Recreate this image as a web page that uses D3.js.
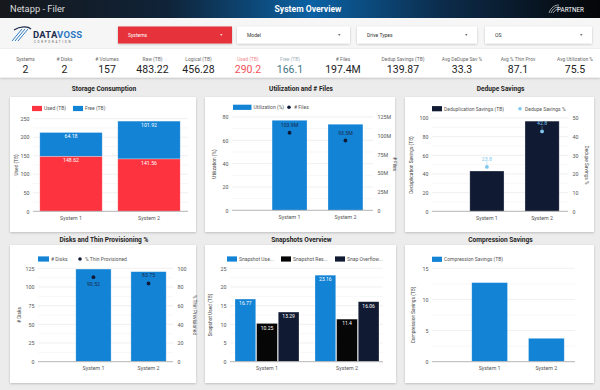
<!DOCTYPE html>
<html><head><meta charset="utf-8">
<script src="https://cdn.jsdelivr.net/npm/d3@7"></script>
<style>body{margin:0;background:#ececec;} svg{display:block;font-family:Roboto,"Noto Sans",sans-serif;}</style>
</head><body><svg id="c" width="600" height="390"></svg>
<script>
// ---------- DATA ----------
const headerTitle = "Netapp - Filer";
const dashTitle = "System Overview";
const filters = ["Systems", "Model", "Drive Types", "OS"];
const kpiLabels = ["Systems","# Disks","# Volumes","Raw (TB)","Logical (TB)","Used (TB)","Free (TB)","# Files","Dedup Savings (TB)","Avg DeDupe Sav %","Avg % Thin Prov","Avg Utilization %"];
const kpiValues = ["2","2","157","483.22","456.28","290.2","166.1","197.4M","139.87","33.3","87.1","75.5"];
const systems = ["System 1", "System 2"];
const usedTB = [148.62, 141.56];
const freeTB = [64.18, 101.92];
const storageTicks = [0, 50, 100, 150, 200, 250];
const utilization = [77.2, 73.8];
const files = [103.9e6, 93.5e6];
const utilTicks = [0, 20, 40, 60, 80];
const filesTicks = [0, 25e6, 50e6, 75e6, 100e6, 125e6];
const dedupTB = [43.2, 96.67];
const dedupPct = [23.8, 42.8];
const dedupTicks = [0, 20, 40, 60, 80, 100];
const dedupPctTicks = [0, 10, 20, 30, 40, 50];
const disks = [124, 120.5];
const thinPct = [90.52, 83.75];
const diskTicks = [0, 25, 50, 75, 100, 125];
const thinTicks = [0, 20, 40, 60, 80, 100];
const snapSeries = ["Snapshot Use...", "Snapshot Res...", "Snap Overflow..."];
const snapUsed = [16.77, 23.16];
const snapReserve = [10.25, 11.4];
const snapOverflow = [13.29, 16.06];
const snapTicks = [0, 5, 10, 15, 20, 25];
const compression = [12.7, 3.76];
const compTicks = [0, 5, 10, 15];

// ---------- STYLE ----------
const RED = "#fe3340", BLUE = "#1383d6", NAVY = "#111a33", BLACK = "#060606", LBLUE = "#7ec6ee", DOT = "#0e1a36";
const FONT = "Roboto, 'Noto Sans', sans-serif";
const svg = d3.select("#c");
const defs = svg.append("defs");
const grad = defs.append("linearGradient").attr("id", "hdr").attr("x1", "0").attr("x2", "1");
[["0%","#16181c"],["28%","#0f2338"],["52%","#0b62a4"],["74%","#0c2b4a"],["100%","#050607"]]
  .forEach(s => grad.append("stop").attr("offset", s[0]).attr("stop-color", s[1]));
const f = defs.append("filter").attr("id","sh").attr("x","-5%").attr("y","-5%").attr("width","110%").attr("height","115%");
f.append("feDropShadow").attr("dx",0).attr("dy",0.8).attr("stdDeviation",0.9).attr("flood-color","#000").attr("flood-opacity",0.22);

svg.append("rect").attr("width", 600).attr("height", 390).attr("fill", "#ececec");
// header
svg.append("rect").attr("width", 600).attr("height", 18).attr("fill", "url(#hdr)");
svg.append("text").attr("x", 10).attr("y", 12.2).attr("font-size", 9.3).attr("fill", "#dcdcdc").text(headerTitle);
svg.append("text").attr("x", 308).attr("y", 12.2).attr("text-anchor", "middle").attr("font-size", 8.6).attr("font-weight", 700).attr("fill", "#fff").text(dashTitle);
// partner logo
svg.append("path").attr("d", "M549,13 C551,7 555,5 559,5 M551,13 C553,8 556,7 559,7 M553,13 C555,10 557,9 559,9").attr("stroke", "#ddd").attr("fill", "none").attr("stroke-width", 0.7);
svg.append("text").attr("x", 557).attr("y", 12).attr("font-size", 6.3).attr("fill", "#fff").text("PARTNER");

// filter row
svg.append("rect").attr("y", 18).attr("width", 600).attr("height", 31).attr("fill", "#f6f6f6");
// datavoss logo
const lg = svg.append("g");
[0, 3, 6].forEach(o => lg.append("path").attr("d", `M${12+o},${41} L${22+o},${29}`).attr("stroke", "#2f7fc8").attr("stroke-width", 1).attr("fill", "none"));
lg.append("path").attr("d", "M14,30 C20,26 28,26 31,29").attr("stroke", "#1d2b4f").attr("stroke-width", 1.2).attr("fill", "none");
const dt = lg.append("text").attr("x", 33).attr("y", 38).attr("font-size", 9.5).attr("font-weight", 700).attr("letter-spacing", 0.2);
dt.append("tspan").attr("fill", "#1d2b4f").text("DATA");
dt.append("tspan").attr("fill", "#2a78c2").text("VOSS");
lg.append("text").attr("x", 34).attr("y", 42.5).attr("font-size", 2.8).attr("letter-spacing", 1.75).attr("fill", "#555").text("CORPORATION");

const fx = [[118, 232], [237, 350], [357, 477], [485, 592]];
filters.forEach((t, i) => {
  const red = i === 0;
  svg.append("rect").attr("x", fx[i][0]).attr("y", 26.5).attr("width", fx[i][1] - fx[i][0]).attr("height", 17)
    .attr("fill", red ? "#e5333b" : "#fff").attr("filter", "url(#sh)");
  svg.append("text").attr("x", fx[i][0] + 10).attr("y", 36.8).attr("font-size", 5).attr("fill", red ? "#fff" : "#333").text(t);
  svg.append("path").attr("d", `M${fx[i][1]-12},34.2 l2.6,0 l-1.3,1.6 z`).attr("fill", red ? "#fff" : "#444");
});

// KPI band
svg.append("rect").attr("y", 49).attr("width", 600).attr("height", 28.5).attr("fill", "#fff").attr("filter", "url(#sh)");
const kpiX = [25.5, 64.5, 107, 152.5, 198.5, 248, 290, 343, 403, 462, 518, 575];
kpiLabels.forEach((l, i) => {
  const lc = i === 5 ? "#f08a90" : i === 6 ? "#9fb2ba" : "#6a6a6a";
  const vc = i === 5 ? "#f2505b" : i === 6 ? "#3f7585" : "#222";
  svg.append("text").attr("x", kpiX[i]).attr("y", 60.5).attr("text-anchor", "middle").attr("font-size", 4.9).attr("fill", lc).text(l);
  svg.append("text").attr("x", kpiX[i]).attr("y", 72.6).attr("text-anchor", "middle").attr("font-size", 10.5).attr("fill", vc).text(kpiValues[i]);
});

// ---------- HELPERS ----------
function card(x0, y0, x1, y1, title, ty) {
  svg.append("rect").attr("x", x0).attr("y", y0).attr("width", x1 - x0).attr("height", y1 - y0).attr("fill", "#fff").attr("filter", "url(#sh)");
  svg.append("text").attr("x", (x0 + x1) / 2 + 1).attr("y", ty).attr("text-anchor", "middle").attr("font-size", 6.6).attr("font-weight", 700).attr("fill", "#1e1e1e").text(title);
}
function grid(y, x0, x1, ticks) {
  const g = svg.append("g");
  const step = ticks[1] - ticks[0];
  const minor = [];
  for (let i = 0; i < ticks.length - 1; i++) minor.push(ticks[i] + step / 2);
  g.selectAll(".mn").data(minor).join("line").attr("x1", x0).attr("x2", x1).attr("y1", d => y(d)).attr("y2", d => y(d)).attr("stroke", "#f2f2f2").attr("stroke-width", 0.6);
  g.selectAll(".mj").data(ticks.slice(1)).join("line").attr("x1", x0).attr("x2", x1).attr("y1", d => y(d)).attr("y2", d => y(d)).attr("stroke", "#e6e6e6").attr("stroke-width", 0.6);
}
function styleAxis(g) {
  g.select(".domain").remove();
  g.attr("font-family", FONT).attr("font-size", 5.3);
  g.selectAll("text").attr("fill", "#555");
}
function leftAxis(y, x, ticks, fmt) {
  svg.append("g").attr("transform", `translate(${x},0)`)
    .call(d3.axisLeft(y).tickValues(ticks).tickSize(0).tickPadding(3.5).tickFormat(fmt || (d => d))).call(styleAxis);
}
function rightAxis(y, x, ticks, fmt) {
  svg.append("g").attr("transform", `translate(${x},0)`)
    .call(d3.axisRight(y).tickValues(ticks).tickSize(0).tickPadding(4.5).tickFormat(fmt || (d => d))).call(styleAxis);
}
function bottomAxis(x, yb, x0, x1, pad) {
  svg.append("line").attr("x1", x0).attr("x2", x1).attr("y1", yb).attr("y2", yb).attr("stroke", "#b5b5b5").attr("stroke-width", 1);
  svg.append("g").attr("transform", `translate(0,${yb})`)
    .call(d3.axisBottom(x).tickSize(0).tickPadding(pad)).call(styleAxis);
}
function vtitle(x, y, t, rot) {
  svg.append("text").attr("transform", `translate(${x},${y}) rotate(${rot})`).attr("text-anchor", "middle")
    .attr("font-size", 4.8).attr("fill", "#444").text(t);
}
function legendRect(x, y, w, color, label) {
  svg.append("rect").attr("x", x).attr("y", y - 2.6).attr("width", w).attr("height", 5.2).attr("fill", color);
  svg.append("text").attr("x", x + w + 2).attr("y", y + 1.8).attr("font-size", 5).attr("fill", "#555").text(label);
}
function legendDot(x, y, color, label) {
  svg.append("circle").attr("cx", x).attr("cy", y).attr("r", 1.8).attr("fill", color);
  svg.append("text").attr("x", x + 5).attr("y", y + 1.8).attr("font-size", 5).attr("fill", "#555").text(label);
}
function label(x, y, t, color, size) {
  svg.append("text").attr("x", x).attr("y", y).attr("text-anchor", "middle").attr("font-size", size || 5.2).attr("fill", color).text(t);
}

// ---------- CHART 1: Storage Consumption ----------
card(10, 97, 196, 232, "Storage Consumption", 91.3);
{
  const y = d3.scaleLinear().domain([0, 250]).range([211.3, 118.7]);
  const x = d3.scaleBand().domain(systems).range([32, 188]).paddingInner(0.2).paddingOuter(0.1);
  grid(y, 33, 188, storageTicks);
  const rows = systems.map((s, i) => ({ s, used: usedTB[i], free: freeTB[i] }));
  const stack = d3.stack().keys(["used", "free"])(rows);
  const cols = [RED, BLUE];
  stack.forEach((layer, li) => {
    svg.append("g").selectAll("rect").data(layer).join("rect")
      .attr("x", d => x(d.data.s)).attr("width", x.bandwidth())
      .attr("y", d => y(d[1])).attr("height", d => y(d[0]) - y(d[1]))
      .attr("fill", cols[li]).attr("stroke", "rgba(255,255,255,0.45)").attr("stroke-width", 0.6);
    layer.forEach(d => label(x(d.data.s) + x.bandwidth() / 2, y(d[1]) + 6, (d[1] - d[0]).toFixed(2), "#fff"));
  });
  bottomAxis(x, 211.3, 33, 188, 5);
  leftAxis(y, 33, storageTicks);
  vtitle(17.5, 165, "Used (TB)", -90);
  legendRect(32, 108.5, 10, RED, "Used (TB)");
  legendRect(73, 108.5, 10, BLUE, "Free (TB)");
}

// ---------- CHART 2: Utilization and # Files ----------
card(205, 97, 395, 232, "Utilization and # Files", 91.3);
{
  const y = d3.scaleLinear().domain([0, 80]).range([210.3, 117]);
  const y2 = d3.scaleLinear().domain([0, 125e6]).range([210.3, 117]);
  const x = d3.scaleBand().domain(systems).range([262, 373]).paddingInner(0.375).paddingOuter(0.18);
  grid(y, 232, 373, utilTicks);
  svg.append("g").selectAll("rect").data(systems).join("rect")
    .attr("x", d => x(d)).attr("width", x.bandwidth()).attr("y", (d, i) => y(utilization[i])).attr("height", (d, i) => y(0) - y(utilization[i]))
    .attr("fill", BLUE).attr("stroke", "rgba(255,255,255,0.45)").attr("stroke-width", 0.6);
  systems.forEach((s, i) => {
    const cx = x(s) + x.bandwidth() / 2;
    svg.append("circle").attr("cx", cx).attr("cy", y2(files[i])).attr("r", 1.9).attr("fill", DOT);
    label(cx, y2(files[i]) - 6, (files[i] / 1e6).toFixed(1) + "M", "#1a2a48");
  });
  bottomAxis(x, 210.3, 232, 373, 5);
  leftAxis(y, 232, utilTicks);
  rightAxis(y2, 373, filesTicks, d => d === 0 ? "0" : (d / 1e6) + "M");
  vtitle(215.5, 164, "Utilization (%)", -90);
  vtitle(392.5, 164, "# Files", 90);
  legendRect(233, 107.3, 18.5, BLUE, "Utilization (%)");
  legendDot(289, 107.3, DOT, "# Files");
}

// ---------- CHART 3: Dedupe Savings ----------
card(405, 97, 594, 232, "Dedupe Savings", 91.3);
{
  const y = d3.scaleLinear().domain([0, 100]).range([211.3, 118]);
  const y2 = d3.scaleLinear().domain([0, 50]).range([211.3, 118]);
  const x = d3.scaleBand().domain(systems).range([461, 568]).paddingInner(0.38).paddingOuter(0.16);
  grid(y, 432, 568, dedupTicks);
  svg.append("g").selectAll("rect").data(systems).join("rect")
    .attr("x", d => x(d)).attr("width", x.bandwidth()).attr("y", (d, i) => y(dedupTB[i])).attr("height", (d, i) => y(0) - y(dedupTB[i]))
    .attr("fill", NAVY).attr("stroke", "rgba(255,255,255,0.5)").attr("stroke-width", 0.6);
  systems.forEach((s, i) => {
    const cx = x(s) + x.bandwidth() / 2, cy = y2(dedupPct[i]);
    svg.append("circle").attr("cx", cx).attr("cy", cy).attr("r", 1.9).attr("fill", LBLUE);
    svg.append("line").attr("x1", cx).attr("x2", cx).attr("y1", cy - 5.5).attr("y2", cy - 2).attr("stroke", LBLUE).attr("stroke-width", 0.4);
    label(cx, cy - 6.3, dedupPct[i].toFixed(1), LBLUE);
  });
  bottomAxis(x, 211.3, 432, 568, 5);
  leftAxis(y, 432, dedupTicks);
  rightAxis(y2, 568, dedupPctTicks);
  vtitle(413, 165, "Deduplication Savings (TB)", -90);
  vtitle(584.5, 165, "Dedupe Savings %", 90);
  legendRect(432, 108.7, 10, NAVY, "Deduplication Savings (TB)");
  legendDot(520, 108.7, LBLUE, "Dedupe Savings %");
}

// ---------- CHART 4: Disks and Thin Provisioning % ----------
card(10, 245, 196, 383, "Disks and Thin Provisioning %", 241.5);
{
  const y = d3.scaleLinear().domain([0, 125]).range([361.7, 268.3]);
  const y2 = d3.scaleLinear().domain([0, 100]).range([361.7, 268.3]);
  const x = d3.scaleBand().domain(systems).range([69, 173]).paddingInner(0.36).paddingOuter(0.124);
  grid(y, 38, 173, diskTicks);
  svg.append("g").selectAll("rect").data(systems).join("rect")
    .attr("x", d => x(d)).attr("width", x.bandwidth()).attr("y", (d, i) => y(disks[i])).attr("height", (d, i) => y(0) - y(disks[i]))
    .attr("fill", BLUE).attr("stroke", "rgba(255,255,255,0.45)").attr("stroke-width", 0.6);
  systems.forEach((s, i) => {
    const cx = x(s) + x.bandwidth() / 2, cy = y2(thinPct[i]);
    svg.append("circle").attr("cx", cx).attr("cy", cy).attr("r", 1.9).attr("fill", DOT);
    const below = cy - y(disks[i]) < 10;
    label(cx, below ? cy + 9 : cy - 6, thinPct[i].toFixed(2), "#1a2a48");
  });
  bottomAxis(x, 361.7, 38, 173, 4.5);
  leftAxis(y, 38, diskTicks);
  rightAxis(y2, 173, thinTicks);
  vtitle(20.5, 315, "# Disks", -90);
  vtitle(192.5, 315, "% Thin Provisioned", 90);
  legendRect(38, 259, 11, BLUE, "# Disks");
  legendDot(80, 259, DOT, "% Thin Provisioned");
}

// ---------- CHART 5: Snapshots Overview ----------
card(205, 245, 396, 383, "Snapshots Overview", 241.5);
{
  const y = d3.scaleLinear().domain([0, 25]).range([361.7, 268.3]);
  const x = d3.scaleBand().domain(systems).range([231, 383]).paddingInner(0.2).paddingOuter(0.05);
  const x1 = d3.scaleBand().domain(snapSeries).range([0, x.bandwidth()]).paddingInner(0.04);
  const cols = [BLUE, BLACK, NAVY];
  const vals = [snapUsed, snapReserve, snapOverflow];
  grid(y, 230, 383, snapTicks);
  systems.forEach((s, i) => {
    snapSeries.forEach((k, j) => {
      const v = vals[j][i];
      svg.append("rect").attr("x", x(s) + x1(k)).attr("width", x1.bandwidth()).attr("y", y(v)).attr("height", y(0) - y(v))
        .attr("fill", cols[j]).attr("stroke", "rgba(255,255,255,0.45)").attr("stroke-width", 0.6);
      label(x(s) + x1(k) + x1.bandwidth() / 2, y(v) + 6.3, String(v), "#fff", 5);
    });
  });
  bottomAxis(x, 361.7, 230, 383, 4.5);
  leftAxis(y, 230, snapTicks);
  vtitle(212, 315, "Snapshot Used (TB)", -90);
  snapSeries.forEach((k, j) => legendRect([227, 281, 335][j], 259, 10, cols[j], k));
}

// ---------- CHART 6: Compression Savings ----------
card(405, 245, 594, 383, "Compression Savings", 241.5);
{
  const y = d3.scaleLinear().domain([0, 15]).range([361.7, 268.3]);
  const x = d3.scaleBand().domain(systems).range([461, 575]).paddingInner(0.37).paddingOuter(0.19);
  grid(y, 432, 575, compTicks);
  svg.append("g").selectAll("rect").data(systems).join("rect")
    .attr("x", d => x(d)).attr("width", x.bandwidth()).attr("y", (d, i) => y(compression[i])).attr("height", (d, i) => y(0) - y(compression[i]))
    .attr("fill", BLUE).attr("stroke", "rgba(255,255,255,0.45)").attr("stroke-width", 0.6);
  bottomAxis(x, 361.7, 432, 575, 4.5);
  leftAxis(y, 432, compTicks);
  vtitle(414.5, 315, "Compression Savings (TB)", -90);
  legendRect(432, 259.3, 10, BLUE, "Compression Savings (TB)");
}
</script></body></html>
